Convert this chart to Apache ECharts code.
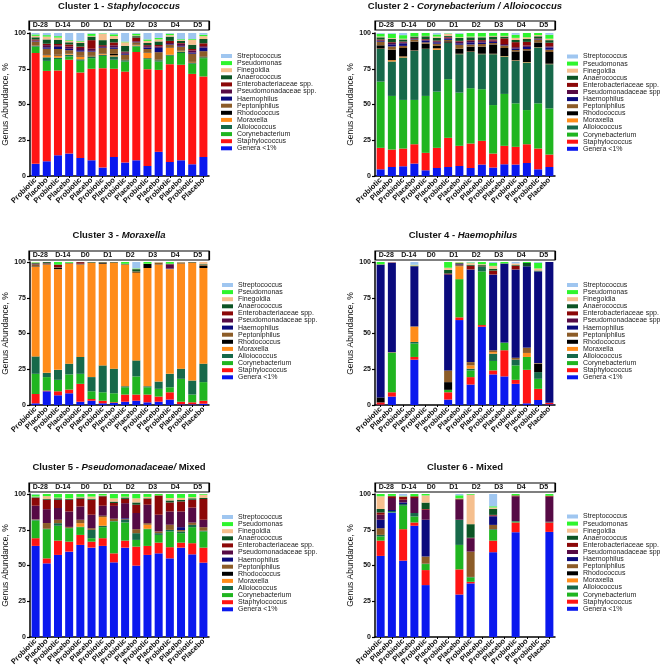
<!DOCTYPE html>
<html>
<head>
<meta charset="utf-8">
<script src="https://cdn.jsdelivr.net/npm/echarts@6/dist/echarts.min.js"></script>
<style>
html,body{margin:0;padding:0;background:#fff;}
#chart{width:660px;height:670px;}
</style>
</head>
<body>
<div id="chart"></div>
<script>
// Stack order, bottom to top
const species = ['Genera <1%','Staphylococcus','Corynebacterium','Alloiococcus','Moraxella','Rhodococcus','Peptoniphilus','Haemophilus','Pseudomonadaceae spp.','Enterobacteriaceae spp.','Anaerococcus','Finegoldia','Pseudomonas','Streptococcus'];
const speciesColors = ['#0a18ee','#ff1414','#20b520','#17694a','#ff8c1a','#000000','#8c5c28','#0a0a7d','#560a45','#8c0808','#0c5424','#f5bf8e','#2ef52e','#9fc6f0'];
const categories = ['Probiotic','Placebo','Probiotic','Placebo','Probiotic','Placebo','Probiotic','Placebo','Probiotic','Placebo','Probiotic','Placebo','Probiotic','Placebo','Probiotic','Placebo'];
const timepoints = ['D-28','D-14','D0','D1','D2','D3','D4','D5'];
const titleMain = ['Cluster 1 - ','Cluster 2 - ','Cluster 3 - ','Cluster 4 - ','Cluster 5 - ','Cluster 6 - Mixed'];
const titleItalic = ['Staphylococcus','Corynebacterium / Alloiococcus','Moraxella','Haemophilus','Pseudomonadaceae/',''];
const titleTail = ['','','','',' Mixed',''];

// Each bar: [Genera, Staph, Coryne, Allo, Morax, Rhodo, Pepto, Haemo, Pseudomonadaceae, Entero, Anaero, Finegoldia, Pseudomonas, Strepto]
const cluster1 = [
 [8.5,77.5,4.5,0.5,0.3,0.2,2.5,0.3,0.5,0.7,1.5,1,1,1],
 [10.3,63.2,7,2.5,1.5,0.5,4,1,1.5,1,3,2,1,1.5],
 [14.5,59.3,8,1,1.5,0.5,4,1.5,1,1,3,1.5,1,2.2],
 [15.7,65.6,2.3,1.2,0.5,0.3,2.4,1,1.5,1.5,1.5,1,0.5,5],
 [12.6,59.8,8.2,1,2,0.4,3,1,1.5,1,2.5,1,0.5,5.5],
 [11,64,7.4,1,0.3,0.3,3,0.5,1.5,6,2.5,0.5,1.5,0.5],
 [5.9,69.5,8.6,0.8,0.7,0.3,3.7,0.5,0.8,0.7,3.5,4.5,0.3,0.2],
 [13.3,61.7,6.3,2.3,0.8,1,3.5,1,1.5,2,2.5,2,1.2,0.9],
 [9.4,63.6,7,1,0.5,0.3,3,0.7,1,0.5,4,2.5,0.5,6],
 [11,75.7,3.9,0.6,0.5,0.3,1.5,0.3,0.5,2.5,1,0.5,1.2,0.5],
 [7,67.7,7,0.7,3.6,0.3,2.5,1,1,0.7,1.5,1.5,1,4.5],
 [16.9,57.3,5.8,1,0.3,0.3,5,3,1,1,2.5,1.5,1,3.4],
 [9.8,68.4,5.9,0.7,5,0.3,1.5,0.4,1,1.5,3,1,1,0.5],
 [11,66.8,8.2,1.1,0.4,0.3,2.7,0.5,1.5,0.5,1.5,0.7,0.5,4.3],
 [8.2,63.2,7.1,0.5,0.5,0.3,5.7,0.8,1.5,1,3,3.5,0.5,4.2],
 [13.3,56.3,12.8,0.7,0.4,0.3,3.5,2.5,1,2,3,2,1,1.2]
];
const cluster2 = [
 [4.7,15,46.3,22.8,0.3,2.3,2.5,0.5,0.5,0.6,1.5,0.5,2,0.5],
 [6.3,12.2,37.5,24.1,0.9,7.3,2.3,1.5,1,0.5,2.4,0.5,3,0.5],
 [6.8,12.4,34,29.7,0.7,5.9,1.5,1.8,0.7,0.5,1.5,0.5,2.5,1.5],
 [8.7,13.5,31,34.4,0.2,6.2,1.5,0.3,0.5,0.3,0.9,0.2,2.3,0],
 [4,12.2,39.8,32.8,0.2,3.5,1,1.2,0.5,0.5,2,0.3,2,0],
 [5.6,14.1,39.3,29.3,1,1.7,1.5,1,0.7,0.5,2,0.8,1.5,1],
 [6.3,20.4,41,25.3,0.2,1,1,0.8,0.8,0.5,0.7,1.5,0.3,0.2],
 [7,14.1,37.2,26.9,0.3,3.5,2.8,1,1.2,0.5,2,0.5,2.5,0.5],
 [5.6,17.1,38.7,25.3,0.3,3.5,1.5,1.5,1,0.5,2,0.5,2.5,0],
 [8,16.6,36.1,24.5,0.3,5,1.8,1,1,0.7,2,0.5,2.5,0],
 [5.9,9.8,33.9,35.6,0.3,6.5,1,0.8,1,0.7,2,0.5,2,0],
 [8.2,12.9,36.3,26.2,0.3,5.6,1.8,0.3,0.7,4,1.2,0.5,2,0],
 [8,12.4,30.4,29.8,0.3,6.2,1,1,1,3.5,1.5,1.5,2.2,1.2],
 [9.1,13.1,23.9,33.3,0.3,8.1,1,1.5,1,2.5,2,1.2,3,0],
 [4.7,14.5,31.6,39.1,0.2,3.3,1.8,0.3,0.3,0.4,1.5,0.8,1.5,0],
 [6.3,8.7,32.3,30.9,0.3,8.2,1.6,1.6,0.8,2.5,1.8,1,2.8,1.2]
];
const cluster3 = [
 [1.2,6.5,14.1,12.2,62.5,0.3,1.5,0,0.3,0.3,0.5,0.3,0.3,0],
 [9.6,0.5,9.4,3,75.6,0.2,0.8,0,0.2,0.1,0.6,0,0,0],
 [6.8,2.8,8,7,70.4,0.8,0.5,0,0.2,1.5,0.3,0,1.7,0],
 [8.2,2.6,10.6,7.5,69.9,0,0.5,0,0,0,0.2,0,0.5,0],
 [2.3,12.5,7,11.8,64.5,0.1,0.4,0,0.3,1,0.1,0,0,0],
 [3,1.2,5.4,9.9,79.8,0,0.4,0,0,0,0.3,0,0,0],
 [1.2,1.8,5.9,18.8,71.1,0.7,0.3,0,0,0,0.2,0,0,0],
 [1.4,0.5,6.3,17.2,73.9,0,0.5,0,0,0,0.2,0,0,0],
 [2.3,5,5.1,0.7,85,0,0.3,0,0,0,0.4,0,1.2,0],
 [3,4.3,12.7,11.2,61.1,0,1.1,0,0,0,1.6,0.3,0.3,4.4],
 [1.9,5.4,5.1,0.7,82.7,2.8,0.2,0,0,0,0,0,1.2,0],
 [2.3,3.6,5.4,5.1,81.7,0,1.2,0,0,0,0.3,0.4,0,0],
 [3.8,5.1,3.5,9.4,73.2,0,0.2,0.3,2.8,0.2,0.3,0,1.2,0],
 [0.5,1.8,16,7.1,73.4,0,0.8,0,0,0,0.2,0.2,0,0],
 [0.5,1.4,5.4,9.8,82.2,0,0.5,0,0,0,0.2,0,0,0],
 [0.9,2.1,13,12.9,66.9,1.5,0.8,0,0,0,0.4,1.5,0,0]
];
const cluster4 = [
 [0.3,1.5,0,0,0,3.5,0,92.7,0,0,0.3,0.2,1.5,0],
 [5.9,3,27.5,0.3,0,0,0.3,62.5,0.3,0,0,0.2,0,0],
 null,
 [31.7,1.9,9.4,1.1,10.6,0,0.3,42,0,0,0.3,0.5,0.3,1.9],
 null,
 null,
 [3.8,5.1,1.7,0,0,5.4,8.2,66.8,0.5,0.5,2.5,1.5,4,0],
 [59.4,1.9,26.7,0,9,0,0.8,0.5,0.2,0.3,0.5,0.5,0.2,0],
 [14.3,5.2,4.7,1.2,2.3,0,2.3,64.6,0.3,2.5,0.6,1.2,0.5,0.3],
 [54.7,1.2,37.5,3.6,0,0,0,0,0,0.5,0.5,0.5,1.5,0],
 [21.4,2.8,6.6,5.1,1.1,0,1.3,52.7,0.3,2.7,1.3,2,2,0.7],
 [20,18.3,5.1,0.3,0,0,0,55.1,0.2,0,0,0,1,0],
 [14.8,2.8,10.1,4,0,0,1.4,61.5,0.3,2.4,0.5,1.2,0,1],
 [1.2,23.4,9,0,2.8,0,3.7,56.9,0,0,2.3,0,0.7,0],
 [3.5,7.8,7,4.7,0,5.9,0.4,64.1,0,0,0.6,1.5,4,0.5],
 [0.5,1,0,0,0,0,0,98.5,0,0,0,0,0,0]
];
const cluster5 = [
 [63.7,5.4,12.4,0.5,0,0,0.3,0,9.5,5.4,0.5,0.5,1.5,0.3],
 [51.5,3.5,20.4,0.3,0,0,4,0,9.7,6.6,0.5,2,1.5,0],
 [57.4,10,10.4,1.8,0,0,2.4,0,8.2,5.8,1,0.5,2.5,0],
 [59.7,7,9.4,0.2,0,0,0.7,0,10.8,8.2,0.5,0.5,3,0],
 [64.4,7,5.4,0.3,2.5,0,2.4,0,9.3,5.4,0.8,0.5,2,0],
 [62.5,4.2,2.4,5.8,0,0,1.2,0,9.4,10.5,0.7,1.5,1.8,0],
 [63.7,5.4,7.7,1,6,0,1,0,7,6.6,0.3,0.3,1,0],
 [52.2,6.3,22.3,0.3,0,0,1.6,0,9,2,1,2.3,3,0],
 [62.5,4.9,12.7,1.9,0,0.3,0.3,0.5,10.5,3,1,0.5,1.9,0],
 [49.9,13.3,4.7,4.7,0,0,2.8,0,11.3,5.8,1.6,2.9,3,0],
 [57.4,6.3,11.7,0.3,2.8,0,1.1,0,12.9,4,0.5,1,2,0],
 [58.5,7.5,5.4,1.2,0,0,1.2,0,11.7,13.5,0,0,1,0],
 [55,7.8,11,1.1,0,0,3.6,0,9.3,6.3,1.4,1.7,2.8,0],
 [62.5,3.5,6.6,1.2,0,0,1,2,11,7,1,1.5,2.7,0],
 [57.8,7.8,11.2,1.6,0,0,1.6,0,10.5,5.5,1,0.8,2.2,0],
 [52,10.5,11.3,0.5,0,0,2.5,0,5.2,14.5,0.7,2.3,0.5,0]
];
const cluster6 = [
 [56.7,10.7,2.9,1.1,0,0,4.7,5.9,3.5,1.6,2.4,8.9,1.6,0],
 [87.1,0,0.3,0.7,0,0,0,0.7,8.4,1.2,0.3,0,1.3,0],
 [53.4,22,16.4,1.2,0,0,0,1.1,1.9,1.9,0.3,0.3,0.3,1.2],
 [77.8,2.3,4.2,2.4,0,0,0,0,10.5,1.2,0,0,1.6,0],
 [36.3,10.5,4.2,0.3,0,0,5,25.7,7,0.5,4.5,5,1,0],
 null,
 null,
 [29.7,17.6,17.1,17.6,0,0,0,0,13.8,0.5,0.5,0.3,2,0.9],
 [37.5,1.1,3.1,0.3,0,0,17.7,0,9.4,0.3,9.5,20.6,0.5,0],
 null,
 [59.3,8.1,7.5,0.5,0,0,3,6,0.5,0.5,4.2,1,0.8,8.6],
 null,
 [73.3,6.8,0.5,0.5,0,0,0,0,17.3,0.6,0,0,1,0],
 null,
 null,
 [73.5,6.6,0,0.5,0,0,0,0,17.5,0.7,0,0,1.2,0]
];
const clusters = [cluster1, cluster2, cluster3, cluster4, cluster5, cluster6];
const yTicks = [0, 25, 50, 75, 100];

// Layout
const FONT = "'Liberation Sans', Arial, Helvetica, sans-serif";
const layout = [
  {left:29,  top:33,  boxTop:21,  titleX:119, titleY:1,   legLeft:221, legTop:52.5, nameGap:20},
  {left:375, top:33,  boxTop:21,  titleX:465, titleY:1,   legLeft:567, legTop:53,   nameGap:17},
  {left:29,  top:262, boxTop:251, titleX:119, titleY:230, legLeft:222, legTop:281.5,nameGap:20},
  {left:375, top:262, boxTop:251, titleX:463, titleY:230, legLeft:567, legTop:281.5,nameGap:17},
  {left:29,  top:494, boxTop:483, titleX:119, titleY:462, legLeft:222, legTop:513.5,nameGap:20},
  {left:375, top:494, boxTop:483, titleX:465, titleY:462, legLeft:567, legTop:513,  nameGap:17}
];
const PW = 180, PH = 143;

const grid = [], xAxis = [], yAxis = [], series = [], title = [], legend = [];
layout.forEach((L, p) => {
  grid.push({left:L.left, top:L.top, width:PW, height:PH, containLabel:false});
  xAxis.push({
    type:'category', gridIndex:p, data:categories,
    axisLine:{show:true, lineStyle:{color:'#000', width:1.5}},
    axisTick:{show:true, alignWithLabel:true, length:2, lineStyle:{color:'#000'}},
    axisLabel:{interval:0, rotate:45, fontSize:7.5, fontWeight:'bold', color:'#111', margin:3, fontFamily:FONT}
  });
  yAxis.push({
    type:'value', gridIndex:p, min:yTicks[0], max:yTicks[yTicks.length-1], interval:25,
    name:'Genus Abundance, %', nameLocation:'middle', nameGap:L.nameGap, nameRotate:90,
    nameTextStyle:{fontSize:8.5, color:'#111', fontFamily:FONT},
    axisLine:{show:true, lineStyle:{color:'#000', width:1.5}},
    axisTick:{show:true, length:3, lineStyle:{color:'#000', width:1.2}},
    axisLabel:{fontSize:7, fontWeight:'bold', color:'#111', margin:4, fontFamily:FONT},
    splitLine:{show:false}
  });
  const rich = {
    n:{fontSize:9.5, fontWeight:'bold', color:'#111', fontFamily:FONT},
    i:{fontSize:9.5, fontWeight:'bold', fontStyle:'italic', color:'#111', fontFamily:FONT}
  };
  let txt = '{n|' + titleMain[p] + '}';
  if (titleItalic[p]) txt += '{i|' + titleItalic[p] + '}';
  if (titleTail[p]) txt += '{n|' + titleTail[p] + '}';
  title.push({text:txt, left:L.titleX, top:L.titleY, textAlign:'center', textStyle:{rich:rich}, padding:0});
  legend.push({
    data: species.slice().reverse(), orient:'vertical', left:L.legLeft, top:L.legTop,
    itemWidth:11, itemHeight:4, itemGap:0.1, icon:'rect', selectedMode:false, padding:0,
    textStyle:{fontSize:7, color:'#222', lineHeight:7, fontFamily:FONT}
  });
  species.forEach((sp, s) => {
    series.push({
      type:'bar', name:sp, stack:'c'+p, xAxisIndex:p, yAxisIndex:p, barWidth:8,
      itemStyle:{color:speciesColors[s]},
      data: clusters[p].map(b => b ? b[s] : '-')
    });
  });
});
// timepoint boxes
layout.forEach((L, p) => {
  const gi = 6 + p;
  grid.push({left:L.left, top:L.boxTop, width:PW, height:9, show:true, borderColor:'#000', borderWidth:1.2, backgroundColor:'transparent'});
  xAxis.push({
    type:'category', gridIndex:gi, data:timepoints,
    axisLine:{show:false}, axisTick:{show:false},
    axisLabel:{interval:0, fontSize:7, fontWeight:'bold', color:'#111', margin:-4.5, verticalAlign:'middle', fontFamily:FONT},
    splitLine:{show:true, interval:(i)=> i===2, lineStyle:{color:'#000', width:1.2}}
  });
  yAxis.push({type:'value', gridIndex:gi, min:0, max:1, show:false});
});

const chart = echarts.init(document.getElementById('chart'), null, {renderer:'canvas'});
chart.setOption({
  animation:false,
  backgroundColor:'#fff',
  textStyle:{fontFamily:FONT},
  title, legend, grid, xAxis, yAxis, series
});
</script>
</body>
</html>
